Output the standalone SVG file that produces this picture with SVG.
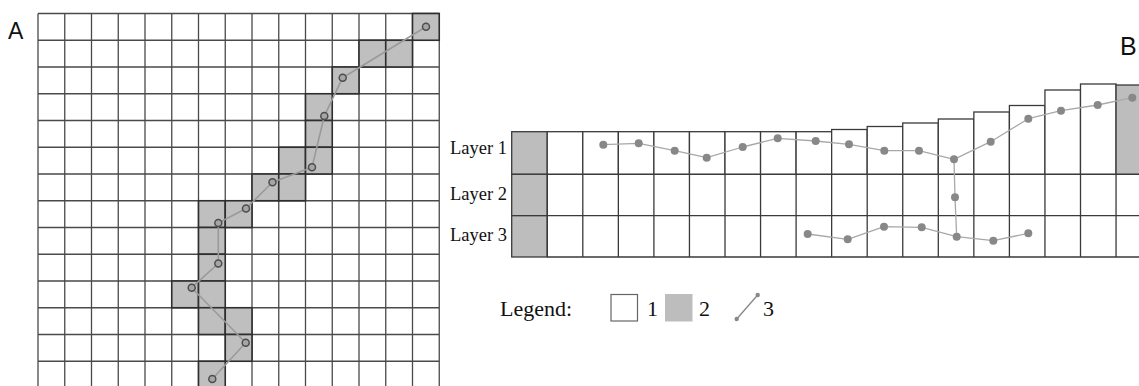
<svg xmlns="http://www.w3.org/2000/svg" width="1139" height="386" viewBox="0 0 1139 386">
<style>
.grid{stroke:#4a4a4a;stroke-width:1.3;fill:none}
.sh{fill:#bfbfbf;stroke:#2e2e2e;stroke-width:1.6}
.cell{fill:#fff;stroke:#3a3a3a;stroke-width:1.3}
.gcell{fill:#bdbdbd;stroke:#3a3a3a;stroke-width:1.3}
.pa{fill:none;stroke:#9a9a9a;stroke-width:1.6;stroke-linejoin:round}
.pb{fill:none;stroke:#a8a8a8;stroke-width:1.3;stroke-linejoin:round}
.da{fill:#a5a5a5;stroke:#4d4d4d;stroke-width:1.5}
.db{fill:#888}
.lbl{font-family:"Liberation Serif",serif;font-size:18.5px;fill:#111}
.leg{font-family:"Liberation Serif",serif;font-size:22px;fill:#111}
.big{font-family:"Liberation Sans",Arial,sans-serif;fill:#111}
</style>
<rect width="1139" height="386" fill="#fff"/>

<!-- Panel A -->
<g id="panelA-label"><text class="big" x="8" y="39" font-size="23">A</text></g>
<g id="panelA-grid">
<path class="grid" d="M38,13.5V386M64.75,13.5V386M91.5,13.5V386M118.25,13.5V386M145,13.5V386M171.75,13.5V386M198.5,13.5V386M225.25,13.5V386M252,13.5V386M278.75,13.5V386M305.5,13.5V386M332.25,13.5V386M359,13.5V386M385.75,13.5V386M412.5,13.5V386M439.25,13.5V386
M38,13.5H439.25M38,40.25H439.25M38,67H439.25M38,93.75H439.25M38,120.5H439.25M38,147.25H439.25M38,174H439.25M38,200.75H439.25M38,227.5H439.25M38,254.25H439.25M38,281H439.25M38,307.75H439.25M38,334.5H439.25M38,361.25H439.25"/>
</g>
<g id="panelA-cells">
<rect class="sh" x="412.5" y="13.5" width="26.75" height="26.75"/>
<rect class="sh" x="359" y="40.25" width="26.75" height="26.75"/>
<rect class="sh" x="385.75" y="40.25" width="26.75" height="26.75"/>
<rect class="sh" x="332.25" y="67" width="26.75" height="26.75"/>
<rect class="sh" x="305.5" y="93.75" width="26.75" height="26.75"/>
<rect class="sh" x="305.5" y="120.5" width="26.75" height="26.75"/>
<rect class="sh" x="278.75" y="147.25" width="26.75" height="26.75"/>
<rect class="sh" x="305.5" y="147.25" width="26.75" height="26.75"/>
<rect class="sh" x="252" y="174" width="26.75" height="26.75"/>
<rect class="sh" x="278.75" y="174" width="26.75" height="26.75"/>
<rect class="sh" x="198.5" y="200.75" width="26.75" height="26.75"/>
<rect class="sh" x="225.25" y="200.75" width="26.75" height="26.75"/>
<rect class="sh" x="198.5" y="227.5" width="26.75" height="26.75"/>
<rect class="sh" x="198.5" y="254.25" width="26.75" height="26.75"/>
<rect class="sh" x="171.75" y="281" width="26.75" height="26.75"/>
<rect class="sh" x="198.5" y="281" width="26.75" height="26.75"/>
<rect class="sh" x="198.5" y="307.75" width="26.75" height="26.75"/>
<rect class="sh" x="225.25" y="307.75" width="26.75" height="26.75"/>
<rect class="sh" x="225.25" y="334.5" width="26.75" height="26.75"/>
<rect class="sh" x="198.5" y="361.25" width="26.75" height="26.75"/>
</g>

<!-- Panel B -->
<g id="panelB-label"><text class="big" x="1120" y="55" font-size="25">B</text></g>
<g id="panelB-labels">
<text class="lbl" x="507" y="153.5" text-anchor="end">Layer 1</text>
<text class="lbl" x="507" y="200" text-anchor="end">Layer 2</text>
<text class="lbl" x="507" y="241" text-anchor="end">Layer 3</text>
</g>
<g id="panelB-layer1">
<rect class="gcell" x="511.7" y="131.7" width="35.55" height="42.6"/>
<rect class="cell" x="547.25" y="131.7" width="35.55" height="42.6"/>
<rect class="cell" x="582.8" y="131.7" width="35.55" height="42.6"/>
<rect class="cell" x="618.35" y="131.7" width="35.55" height="42.6"/>
<rect class="cell" x="653.9" y="131.7" width="35.55" height="42.6"/>
<rect class="cell" x="689.45" y="131.7" width="35.55" height="42.6"/>
<rect class="cell" x="725" y="131.7" width="35.55" height="42.6"/>
<rect class="cell" x="760.55" y="131.7" width="35.55" height="42.6"/>
<rect class="cell" x="796.1" y="131.7" width="35.55" height="42.6"/>
<rect class="cell" x="831.65" y="129.5" width="35.55" height="44.8"/>
<rect class="cell" x="867.2" y="126.5" width="35.55" height="47.8"/>
<rect class="cell" x="902.75" y="123" width="35.55" height="51.3"/>
<rect class="cell" x="938.3" y="119" width="35.55" height="55.3"/>
<rect class="cell" x="973.85" y="112" width="35.55" height="62.3"/>
<rect class="cell" x="1009.4" y="105.5" width="35.55" height="68.8"/>
<rect class="cell" x="1044.95" y="90" width="35.55" height="84.3"/>
<rect class="cell" x="1080.5" y="84" width="35.55" height="90.3"/>
<rect class="gcell" x="1116.05" y="85" width="35.55" height="89.3"/>
</g>
<g id="panelB-layer2">
<rect class="gcell" x="511.7" y="174.3" width="35.55" height="41.4"/>
<path class="grid" d="M547.25,174.3H1139M547.25,215.7H1139M547.25,174.3V215.7M582.8,174.3V215.7M618.35,174.3V215.7M653.9,174.3V215.7M689.45,174.3V215.7M725,174.3V215.7M760.55,174.3V215.7M796.1,174.3V215.7M831.65,174.3V215.7M867.2,174.3V215.7M902.75,174.3V215.7M938.3,174.3V215.7M973.85,174.3V215.7M1009.4,174.3V215.7M1044.95,174.3V215.7M1080.5,174.3V215.7M1116.05,174.3V215.7" style="stroke:#3a3a3a"/>
</g>
<g id="panelB-layer3">
<rect class="gcell" x="511.7" y="215.7" width="35.55" height="41.3"/>
<path class="grid" d="M547.25,257H1139M547.25,215.7V257M582.8,215.7V257M618.35,215.7V257M653.9,215.7V257M689.45,215.7V257M725,215.7V257M760.55,215.7V257M796.1,215.7V257M831.65,215.7V257M867.2,215.7V257M902.75,215.7V257M938.3,215.7V257M973.85,215.7V257M1009.4,215.7V257M1044.95,215.7V257M1080.5,215.7V257M1116.05,215.7V257" style="stroke:#3a3a3a"/>
</g>

<!-- Connectors -->
<g id="connectors">
<polyline class="pa" points="426,26.7 342.7,77.7 324.3,116 312,167.3 272.5,182.3 246,208.5 218.3,223 218.3,263.5 191.7,287.7 245.7,342.7 212.3,379"/>
<polyline class="pb" points="603.3,144.7 638.7,143.3 674.7,150.7 706.7,157.7 742.7,147 777.7,138.3 815.7,141 849,144.3 884.3,150.7 919,150.7 954,159.3 990.7,141.7 1028.3,118.7 1061,110.7 1097.7,105 1132.3,97.7"/>
<polyline class="pb" points="954,159.3 955,197.3 956.7,236.7"/>
<polyline class="pb" points="807.7,234 847.7,239.3 884,226.7 921.7,227.3 956.7,236.7 993.3,240.7 1028.3,233.3"/>
</g>

<g id="panelA-points">
<circle class="da" cx="426" cy="26.7" r="3.5"/>
<circle class="da" cx="342.7" cy="77.7" r="3.5"/>
<circle class="da" cx="324.3" cy="116" r="3.5"/>
<circle class="da" cx="312" cy="167.3" r="3.5"/>
<circle class="da" cx="272.5" cy="182.3" r="3.5"/>
<circle class="da" cx="246" cy="208.5" r="3.5"/>
<circle class="da" cx="218.3" cy="223" r="3.5"/>
<circle class="da" cx="218.3" cy="263.5" r="3.5"/>
<circle class="da" cx="191.7" cy="287.7" r="3.5"/>
<circle class="da" cx="245.7" cy="342.7" r="3.5"/>
<circle class="da" cx="212.3" cy="379" r="3.5"/>
</g>
<g id="panelB-points">
<circle class="db" cx="603.3" cy="144.7" r="4"/>
<circle class="db" cx="638.7" cy="143.3" r="4"/>
<circle class="db" cx="674.7" cy="150.7" r="4"/>
<circle class="db" cx="706.7" cy="157.7" r="4"/>
<circle class="db" cx="742.7" cy="147" r="4"/>
<circle class="db" cx="777.7" cy="138.3" r="4"/>
<circle class="db" cx="815.7" cy="141" r="4"/>
<circle class="db" cx="849" cy="144.3" r="4"/>
<circle class="db" cx="884.3" cy="150.7" r="4"/>
<circle class="db" cx="919" cy="150.7" r="4"/>
<circle class="db" cx="954" cy="159.3" r="4"/>
<circle class="db" cx="990.7" cy="141.7" r="4"/>
<circle class="db" cx="1028.3" cy="118.7" r="4"/>
<circle class="db" cx="1061" cy="110.7" r="4"/>
<circle class="db" cx="1097.7" cy="105" r="4"/>
<circle class="db" cx="1132.3" cy="97.7" r="4"/>
<circle class="db" cx="955" cy="197.3" r="4"/>
<circle class="db" cx="807.7" cy="234" r="4"/>
<circle class="db" cx="847.7" cy="239.3" r="4"/>
<circle class="db" cx="884" cy="226.7" r="4"/>
<circle class="db" cx="921.7" cy="227.3" r="4"/>
<circle class="db" cx="956.7" cy="236.7" r="4"/>
<circle class="db" cx="993.3" cy="240.7" r="4"/>
<circle class="db" cx="1028.3" cy="233.3" r="4"/>
</g>

<!-- Legend -->
<g id="legend">
<text class="leg" x="500" y="315.5">Legend:</text>
<rect x="611" y="294.5" width="26.5" height="26.5" fill="#fff" stroke="#666" stroke-width="1.2"/>
<text class="leg" x="647" y="315.5">1</text>
<rect x="665" y="294" width="27.5" height="27.5" fill="#bdbdbd"/>
<text class="leg" x="699" y="315.5">2</text>
<line x1="736.7" y1="319" x2="757.7" y2="295" stroke="#888" stroke-width="1.3"/>
<circle cx="736.7" cy="319" r="2.2" fill="#888"/>
<circle cx="757.7" cy="295" r="2.2" fill="#888"/>
<text class="leg" x="763" y="315.5">3</text>
</g>
</svg>
